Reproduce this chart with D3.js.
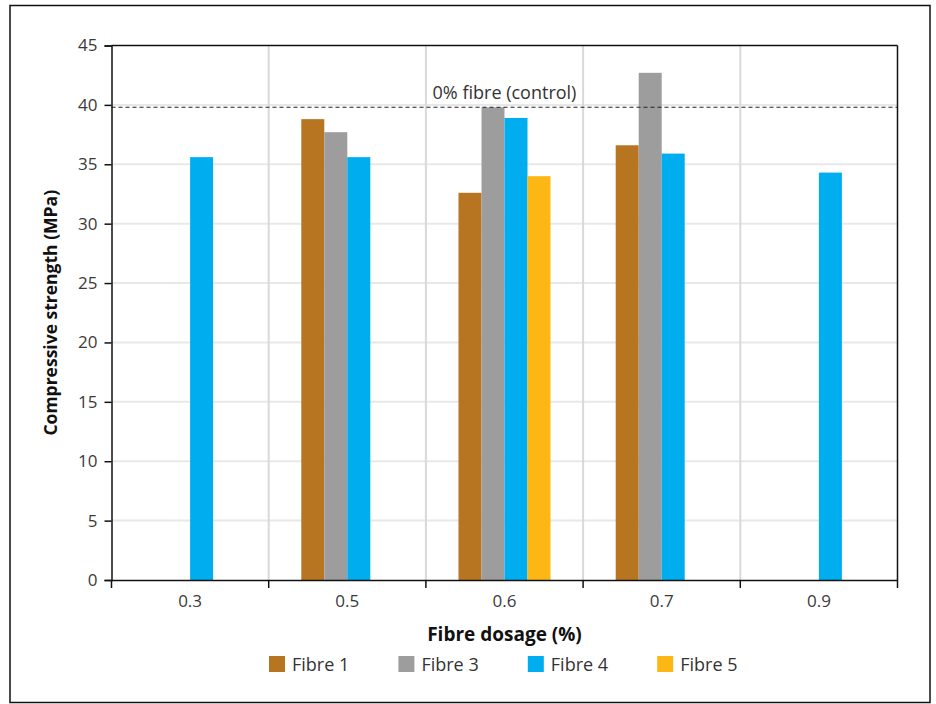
<!DOCTYPE html>
<html>
<head>
<meta charset="utf-8">
<script src="https://cdn.jsdelivr.net/npm/d3@7"></script>
<style>
  body { margin: 0; background: #fff; }
  svg { display: block; font-family: "Open Sans", "Noto Sans", sans-serif; }
</style>
</head>
<body>
<svg id="chart" width="936" height="704"></svg>
<script>
const categories = ["0.3", "0.5", "0.6", "0.7", "0.9"];
const seriesNames = ["Fibre 1", "Fibre 3", "Fibre 4", "Fibre 5"];
const seriesColors = ["#b87521", "#9d9d9d", "#00adef", "#fdb714"];
const fibre1 = [null, 38.8, 32.6, 36.6, null];
const fibre3 = [null, 37.7, 39.8, 42.7, null];
const fibre4 = [35.6, 35.6, 38.9, 35.9, 34.3];
const fibre5 = [null, null, 34.0, null, null];
const controlValue = 39.8;
const controlLabel = "0% fibre (control)";
const yTicks = [0, 5, 10, 15, 20, 25, 30, 35, 40, 45];

const seriesValues = [fibre1, fibre3, fibre4, fibre5];

const svg = d3.select("#chart");
const m = { left: 111.5, right: 897.5, top: 45.5, bottom: 580 };

// outer frame
svg.append("rect")
  .attr("x", 10).attr("y", 5.5).attr("width", 920).attr("height", 697)
  .attr("fill", "none").attr("stroke", "#111").attr("stroke-width", 1.5);

const x0 = d3.scaleBand().domain(categories).range([m.left, m.right]).padding(0);
const barW = 23;
const x1 = d3.scaleBand().domain(seriesNames)
  .range([x0.bandwidth() / 2 - 2 * barW, x0.bandwidth() / 2 + 2 * barW]).padding(0);
const y = d3.scaleLinear().domain([0, 45]).range([m.bottom, m.top]);

// horizontal gridlines
svg.append("g").selectAll("line").data(yTicks.filter(d => d > 0 && d < 45)).join("line")
  .attr("x1", m.left).attr("x2", m.right)
  .attr("y1", d => y(d)).attr("y2", d => y(d))
  .attr("stroke", "#e8e8e8").attr("stroke-width", 2);

// vertical gridlines at category boundaries
const bounds = categories.slice(1).map(c => x0(c));
svg.append("g").selectAll("line").data(bounds).join("line")
  .attr("x1", d => d).attr("x2", d => d)
  .attr("y1", m.top).attr("y2", m.bottom)
  .attr("stroke", "#d9d9d9").attr("stroke-width", 2);

// bars
const groups = svg.append("g").selectAll("g").data(categories).join("g")
  .attr("transform", c => `translate(${x0(c)},0)`);
groups.selectAll("rect")
  .data((c, i) => seriesNames.map((s, j) => ({ s, j, v: seriesValues[j][i] })).filter(d => d.v != null))
  .join("rect")
  .attr("x", d => x1(d.s))
  .attr("width", x1.bandwidth())
  .attr("y", d => y(d.v))
  .attr("height", d => y(0) - y(d.v))
  .attr("fill", d => seriesColors[d.j]);

// control line
svg.append("line")
  .attr("x1", m.left).attr("x2", m.right)
  .attr("y1", y(controlValue)).attr("y2", y(controlValue))
  .attr("stroke", "#222").attr("stroke-width", 1.2)
  .attr("stroke-dasharray", "4,3");
svg.append("text")
  .attr("x", x0("0.6") + x0.bandwidth() / 2).attr("y", y(controlValue) - 8)
  .attr("text-anchor", "middle").attr("font-size", 18).attr("fill", "#333")
  .text(controlLabel);

// plot frame: top and right
svg.append("line").attr("x1", m.left).attr("x2", m.right).attr("y1", m.top).attr("y2", m.top)
  .attr("stroke", "#111").attr("stroke-width", 1.5);
svg.append("line").attr("x1", m.right).attr("x2", m.right).attr("y1", m.top).attr("y2", m.bottom)
  .attr("stroke", "#111").attr("stroke-width", 1.5);

// y axis
const yAxis = svg.append("g").attr("transform", `translate(${m.left},0)`)
  .call(d3.axisLeft(y).tickValues(yTicks).tickSize(7).tickPadding(7).tickFormat(d3.format("d")));
yAxis.select(".domain").attr("stroke", "#111").attr("stroke-width", 1.5);
yAxis.selectAll(".tick line").attr("stroke", "#111").attr("stroke-width", 1.5);
yAxis.selectAll(".tick text").attr("font-size", 17).attr("fill", "#3a3a3a")
  .attr("font-family", "'Open Sans', sans-serif");

// x axis
const xAxis = svg.append("g").attr("transform", `translate(0,${m.bottom})`)
  .call(d3.axisBottom(x0).tickSize(0).tickPadding(15));
xAxis.select(".domain").attr("stroke", "#111").attr("stroke-width", 1.5);
xAxis.selectAll(".tick text").attr("font-size", 17).attr("fill", "#3a3a3a")
  .attr("font-family", "'Open Sans', sans-serif");
// boundary ticks
const edgeTicks = [m.left].concat(bounds).concat([m.right]);
svg.append("g").selectAll("line").data(edgeTicks).join("line")
  .attr("x1", d => d).attr("x2", d => d)
  .attr("y1", m.bottom).attr("y2", m.bottom + 8)
  .attr("stroke", "#111").attr("stroke-width", 1.5);

// axis titles
svg.append("text")
  .attr("transform", `translate(57,${(m.top + m.bottom) / 2}) rotate(-90)`)
  .attr("text-anchor", "middle").attr("font-size", 17.5).attr("font-weight", "bold").attr("fill", "#111")
  .text("Compressive strength (MPa)");
svg.append("text")
  .attr("x", (m.left + m.right) / 2).attr("y", 641)
  .attr("text-anchor", "middle").attr("font-size", 19).attr("font-weight", "bold").attr("fill", "#111")
  .text("Fibre dosage (%)");

// legend
const legend = svg.append("g").selectAll("g").data(seriesNames).join("g")
  .attr("transform", (d, i) => `translate(${269 + i * 129.4},656)`);
legend.append("rect").attr("width", 16).attr("height", 16).attr("fill", (d, i) => seriesColors[i]);
legend.append("text").attr("x", 23).attr("y", 15).attr("font-size", 18).attr("fill", "#333").text(d => d);
</script>
</body>
</html>
